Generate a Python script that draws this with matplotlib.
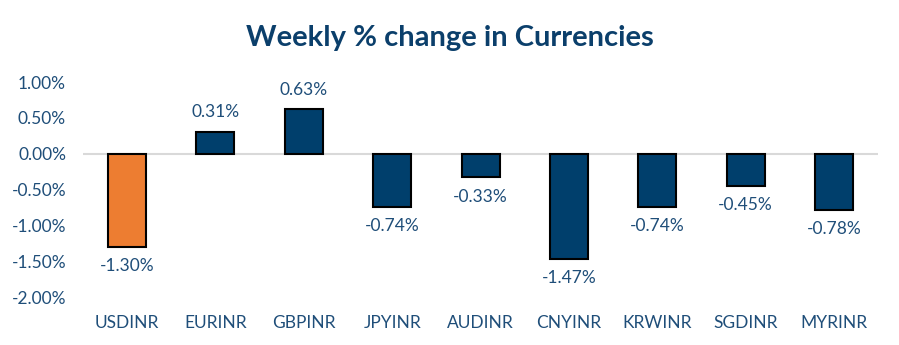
import matplotlib
matplotlib.use('Agg')
import matplotlib.pyplot as plt
from matplotlib.ticker import FuncFormatter

currencies = ['USDINR', 'EURINR', 'GBPINR', 'JPYINR', 'AUDINR', 'CNYINR', 'KRWINR', 'SGDINR', 'MYRINR']
weekly_change = [-1.30, 0.31, 0.63, -0.74, -0.33, -1.47, -0.74, -0.45, -0.78]

navy = '#003F6C'
orange = '#ED7D31'
text_col = '#1F4E79'

plt.rcParams['font.family'] = ['Lato', 'DejaVu Sans']

fig = plt.figure(figsize=(8.99, 3.45), dpi=100)
ax = fig.add_axes([0.092, 0.139, 0.885, 0.623])

colors = [orange] + [navy] * (len(currencies) - 1)
x = range(len(currencies))
ax.bar(x, weekly_change, width=0.43, color=colors, edgecolor='black', linewidth=1.5, zorder=3)
ax.axhline(0, color='#D9D9D9', linewidth=1.5, zorder=1)

for i, v in enumerate(weekly_change):
    if v >= 0:
        ax.annotate(f'{v:.2f}%', (i, v), xytext=(0, 8), textcoords='offset points',
                    ha='center', va='bottom', fontsize=12.5, color=text_col)
    else:
        ax.annotate(f'{v:.2f}%', (i, v), xytext=(0, -8), textcoords='offset points',
                    ha='center', va='top', fontsize=12.5, color=text_col)

ax.set_xlim(-0.5, len(currencies) - 0.5)
ax.set_ylim(-2.0, 1.0)
ax.set_yticks([1.0, 0.5, 0.0, -0.5, -1.0, -1.5, -2.0])
ax.yaxis.set_major_formatter(FuncFormatter(lambda v, p: f'{v:.2f}%'))
ax.set_xticks(list(x))
ax.set_xticklabels(currencies)
ax.tick_params(axis='both', length=0, labelsize=12.5, colors=text_col)
ax.tick_params(axis='x', pad=13)
ax.tick_params(axis='y', pad=12)
for s in ax.spines.values():
    s.set_visible(False)

fig.text(0.5, 0.89, 'Weekly % change in Currencies', ha='center', va='center',
         fontsize=21, fontweight='bold', color='#0B3F6B')

fig.savefig('out.png', dpi=100)
